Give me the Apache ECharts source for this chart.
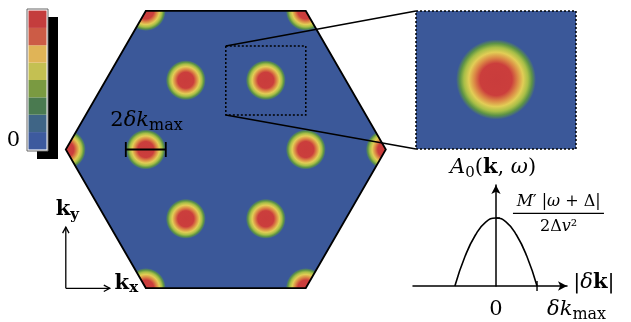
<!DOCTYPE html>
<html><head><meta charset="utf-8">
<script src="https://cdn.jsdelivr.net/npm/echarts@6/dist/echarts.min.js"></script>
<style>html,body{margin:0;padding:0;background:#fff}#c{width:631px;height:322px}</style>
</head><body><div id="c"></div>
<script>
// ---- data (k-space units; Brillouin-zone circumradius = 2) ----
const hexX = [2, 1, -1, -2, -1, 1];
const hexY = [0, 1.732, 1.732, 0, -1.732, -1.732];
const spotX = [1, 0.5, -0.5, -1, -0.5, 0.5];
const spotY = [0, 0.866, 0.866, 0, -0.866, -0.866];
const dkMax = 0.25;
const zoomX = [0, 1];
const zoomY = [0.431, 1.294];
const barSpotX = -1, barSpotY = 0;
const colorbarColors = ['#3d5a9e', '#3f6586', '#4a7a50', '#7a9a41', '#c4c052', '#e0b457', '#cc5c46', '#c43d3d'];
const colorbarTickVals = [0.5];
const colorbarTickLabels = ['0'];
const curveX = [-1, -0.75, -0.5, -0.25, 0, 0.25, 0.5, 0.75, 1];
const curveY = [0, 0.44, 0.75, 0.94, 1, 0.94, 0.75, 0.44, 0];
const peakTickY = [1];
const xTickVals = [1];

const BLUE = '#3b5899';
const F = '"DejaVu Serif","Liberation Serif",serif';
const spotStops = [
  {offset: 0, color: '#c93c3c'}, {offset: 0.4, color: '#cb3e3c'}, {offset: 0.55, color: '#dc8c46'},
  {offset: 0.68, color: '#e2cd56'}, {offset: 0.8, color: '#a8bf47'}, {offset: 0.9, color: '#5d9346'},
  {offset: 1, color: BLUE}];
function spotFill(c, r) { return {type: 'radial', x: c[0], y: c[1], r: r, colorStops: spotStops, global: true}; }
const rich = {
  r: {fontFamily: F, fontSize: 21, lineHeight: 26},
  i: {fontFamily: F, fontSize: 21, fontStyle: 'italic', lineHeight: 26},
  b: {fontFamily: F, fontSize: 21, fontWeight: 'bold', lineHeight: 26},
  s: {fontFamily: F, fontSize: 15, lineHeight: 15, verticalAlign: 'bottom'},
  sm: {fontFamily: F, fontSize: 16, lineHeight: 16, verticalAlign: 'bottom'},
  sb: {fontFamily: F, fontSize: 15, fontWeight: 'bold', lineHeight: 15, verticalAlign: 'bottom'},
  fr: {fontFamily: F, fontSize: 16, lineHeight: 18},
  fi: {fontFamily: F, fontSize: 16, fontStyle: 'italic', lineHeight: 18}
};
function txt(p, s, align) {
  return {type: 'text', x: p[0], y: p[1], style: {text: s, rich: rich, fontFamily: F, fontSize: 21, fill: '#000', align: align || 'center', verticalAlign: 'middle'}};
}
function line(a, b, w, dash) {
  return {type: 'line', shape: {x1: a[0], y1: a[1], x2: b[0], y2: b[1]}, style: {stroke: '#000', lineWidth: w || 1.5, lineDash: dash || null, fill: null}};
}
function arrowHead(tip, dx, dy) {
  const L = 6, W = 3.2, px = -dy, py = dx;
  return {type: 'polyline', shape: {points: [[tip[0] - dx * L + px * W, tip[1] - dy * L + py * W], tip, [tip[0] - dx * L - px * W, tip[1] - dy * L - py * W]]}, style: {stroke: '#000', lineWidth: 1.3, fill: null}};
}

const spotData = spotX.map((x, i) => [x, spotY[i]]);
const hexData = hexX.map((x, i) => [x, hexY[i]]);

const chart = echarts.init(document.getElementById('c'));
const hidden = {show: false};
const option = {
  animation: false,
  backgroundColor: '#fff',
  grid: [
    {left: 25.8, top: 1.5, width: 400, height: 296},
    {left: 416, top: 11, width: 160, height: 138},
    {left: 413, top: 185, width: 154, height: 101},
    {left: 27, top: 9, width: 21, height: 142}
  ],
  xAxis: [
    {gridIndex: 0, type: 'value', min: -2.5, max: 2.5, show: false},
    {gridIndex: 1, type: 'value', min: zoomX[0], max: zoomX[1], show: false},
    {gridIndex: 2, type: 'value', min: -2.02, max: 1.73, axisLine: {onZero: true, symbol: ['none', 'arrow'], symbolSize: [7, 9], lineStyle: {color: '#000', width: 1.5}}, axisTick: hidden, axisLabel: hidden, splitLine: hidden},
    {gridIndex: 3, type: 'value', min: -0.083, max: 1.083, show: false}
  ],
  yAxis: [
    {gridIndex: 0, type: 'value', min: -1.85, max: 1.85, show: false},
    {gridIndex: 1, type: 'value', min: zoomY[0], max: zoomY[1], show: false},
    {gridIndex: 2, type: 'value', min: 0, max: 1.485, axisLine: {onZero: true, symbol: ['none', 'arrow'], symbolSize: [7, 9], lineStyle: {color: '#000', width: 1.5}}, axisTick: hidden, axisLabel: hidden, splitLine: hidden},
    {gridIndex: 3, type: 'value', min: -0.09, max: 8.09, show: false}
  ],
  series: [
    // BZ fill
    {type: 'custom', xAxisIndex: 0, yAxisIndex: 0, clip: false, data: [[0, 0]], z: 1,
      renderItem: (p, api) => ({type: 'polygon', shape: {points: hexData.map(d => api.coord(d))}, style: {fill: BLUE}})},
    // spots
    {type: 'custom', xAxisIndex: 0, yAxisIndex: 0, clip: false, data: spotData, z: 2,
      renderItem: (p, api) => {
        const c = api.coord([api.value(0), api.value(1)]);
        const r = api.size([dkMax, 0])[0];
        return {type: 'circle', shape: {cx: c[0], cy: c[1], r: r}, style: {fill: spotFill(c, r)}};
      }},
    // corner spots (clipped by the zone: 120 degree sectors)
    {type: 'custom', xAxisIndex: 0, yAxisIndex: 0, clip: false, data: hexData, z: 2,
      renderItem: (p, api) => {
        const x = api.value(0), y = api.value(1);
        const c = api.coord([x, y]);
        const r = api.size([dkMax, 0])[0];
        const th = Math.atan2(y, x);
        return {type: 'sector', shape: {cx: c[0], cy: c[1], r0: 0, r: r, startAngle: -th - 4 * Math.PI / 3, endAngle: -th - 2 * Math.PI / 3, clockwise: true}, style: {fill: spotFill(c, r)}};
      }},
    // BZ outline, zoom box, bar, k-axes
    {type: 'custom', xAxisIndex: 0, yAxisIndex: 0, clip: false, data: [[0, 0]], z: 3,
      renderItem: (p, api) => {
        const ch = [];
        ch.push({type: 'polygon', shape: {points: hexData.map(d => api.coord(d))}, style: {fill: null, stroke: '#000', lineWidth: 1.8, lineJoin: 'miter'}});
        const a = api.coord([zoomX[0], zoomY[1]]), b = api.coord([zoomX[1], zoomY[0]]);
        ch.push({type: 'rect', shape: {x: a[0], y: a[1], width: b[0] - a[0], height: b[1] - a[1]}, style: {fill: null, stroke: '#000', lineWidth: 1.5, lineDash: [2, 2]}});
        const l = api.coord([barSpotX - dkMax, barSpotY]), rr = api.coord([barSpotX + dkMax, barSpotY]);
        ch.push(line(l, rr, 1.8));
        ch.push(line([l[0], l[1] - 7.5], [l[0], l[1] + 7.5], 1.8));
        ch.push(line([rr[0], rr[1] - 7.5], [rr[0], rr[1] + 7.5], 1.8));
        ch.push(txt(api.coord([barSpotX + 0.01, 0.36]), '{r|2}{i|δk}{sm|max}'));
        const o = api.coord([-2.0, -1.735]), ey = api.coord([-2.0, -0.97]), ex = api.coord([-1.45, -1.735]);
        ch.push(line(o, ey, 1.3)); ch.push(arrowHead(ey, 0, -1));
        ch.push(line(o, ex, 1.3)); ch.push(arrowHead(ex, 1, 0));
        ch.push(txt(api.coord([-2.125, -0.75]), '{b|k}{sb|y}', 'left'));
        ch.push(txt(api.coord([-1.39, -1.67]), '{b|k}{sb|x}', 'left'));
        return {type: 'group', children: ch};
      }},
    // inset background
    {type: 'custom', xAxisIndex: 1, yAxisIndex: 1, clip: false, data: [[0, 0]], z: 1,
      renderItem: (p) => ({type: 'rect', shape: {x: p.coordSys.x, y: p.coordSys.y, width: p.coordSys.width, height: p.coordSys.height}, style: {fill: BLUE}})},
    // inset spots
    {type: 'custom', xAxisIndex: 1, yAxisIndex: 1, clip: true, data: spotData, z: 2,
      renderItem: (p, api) => {
        const c = api.coord([api.value(0), api.value(1)]);
        const r = api.size([dkMax, 0])[0];
        return {type: 'circle', shape: {cx: c[0], cy: c[1], r: r}, style: {fill: spotFill(c, r)}};
      }},
    // inset dotted border
    {type: 'custom', xAxisIndex: 1, yAxisIndex: 1, clip: false, data: [[0, 0]], z: 3,
      renderItem: (p, api) => {
        const a = api.coord([zoomX[0], zoomY[1]]), b = api.coord([zoomX[1], zoomY[0]]);
        return {type: 'rect', shape: {x: a[0], y: a[1], width: b[0] - a[0], height: b[1] - a[1]}, style: {fill: null, stroke: '#000', lineWidth: 1.5, lineDash: [2, 2]}};
      }},
    // spectral function
    {type: 'line', xAxisIndex: 2, yAxisIndex: 2, data: curveX.map((x, i) => [x, curveY[i]]), smooth: true, showSymbol: false, symbol: 'none', lineStyle: {color: '#000', width: 1.6}, z: 3},
    {type: 'custom', xAxisIndex: 2, yAxisIndex: 2, clip: false, data: [[0, 0]], z: 4,
      renderItem: (p, api) => {
        const ch = [];
        xTickVals.forEach(v => { const c = api.coord([v, 0]); ch.push(line([c[0], c[1] - 5], [c[0], c[1] + 5], 1.4)); });
        peakTickY.forEach(v => { const c = api.coord([0, v]); ch.push(line(c, [c[0] + 4, c[1]], 1.4)); });
        ch.push(txt(api.coord([0, -0.35]), '{r|0}'));
        ch.push(txt(api.coord([1.244, -0.35]), '{i|δk}{sm|max}', 'left'));
        ch.push(txt(api.coord([1.88, 0.044]), '{r||}{i|δ}{b|k}{r||}', 'left'));
        ch.push(txt(api.coord([-0.07, 1.74]), '{i|A}{s|0}{r|(}{b|k}{r|, }{i|ω}{r|)}'));
        ch.push(txt(api.coord([1.527, 1.235]), "{fi|M}{fr|′ |}{fi|ω}{fr| + Δ|}"));
        ch.push(line(api.coord([0.414, 1.069]), api.coord([2.63, 1.069]), 1.3));
        ch.push(txt(api.coord([1.527, 0.875]), '{fr|2Δ}{fi|v}{fr|²}'));
        return {type: 'group', children: ch};
      }},
    // colorbar frame + shadow
    {type: 'custom', xAxisIndex: 3, yAxisIndex: 3, clip: false, data: [[0, 0]], z: 1,
      renderItem: (p) => {
        const cs = p.coordSys;
        return {type: 'group', children: [
          {type: 'rect', shape: {x: cs.x + 10, y: cs.y + 8, width: cs.width, height: cs.height}, style: {fill: '#000'}},
          {type: 'rect', shape: {x: cs.x, y: cs.y, width: cs.width, height: cs.height}, style: {fill: '#fff', stroke: '#666', lineWidth: 1}}
        ]};
      }},
    // colorbar bands
    {type: 'custom', xAxisIndex: 3, yAxisIndex: 3, clip: false, data: colorbarColors.map((c, i) => [i]), z: 2,
      renderItem: (p, api) => {
        const i = api.value(0);
        const a = api.coord([0, i + 1]), b = api.coord([1, i]);
        return {type: 'rect', shape: {x: a[0], y: a[1], width: b[0] - a[0], height: b[1] - a[1]}, style: {fill: colorbarColors[i]}};
      }},
    {type: 'custom', xAxisIndex: 3, yAxisIndex: 3, clip: false, data: colorbarTickVals.map((v, i) => [v, i]), z: 2,
      renderItem: (p, api) => {
        const c = api.coord([-0.083, api.value(0)]);
        return txt([c[0] - 7, c[1] - 0.5], '{r|' + colorbarTickLabels[api.value(1)] + '}', 'right');
      }}
  ]
};
chart.setOption(option);
// connector lines between the zoom box and the inset
const p0a = chart.convertToPixel({gridIndex: 0}, [zoomX[0], zoomY[1]]);
const p1a = chart.convertToPixel({gridIndex: 1}, [zoomX[0], zoomY[1]]);
const p0b = chart.convertToPixel({gridIndex: 0}, [zoomX[0], zoomY[0]]);
const p1b = chart.convertToPixel({gridIndex: 1}, [zoomX[0], zoomY[0]]);
chart.setOption({graphic: [
  {type: 'line', z: 10, shape: {x1: p0a[0], y1: p0a[1], x2: p1a[0], y2: p1a[1]}, style: {stroke: '#000', lineWidth: 1.6}},
  {type: 'line', z: 10, shape: {x1: p0b[0], y1: p0b[1], x2: p1b[0], y2: p1b[1]}, style: {stroke: '#000', lineWidth: 1.6}}
]});
</script></body></html>
